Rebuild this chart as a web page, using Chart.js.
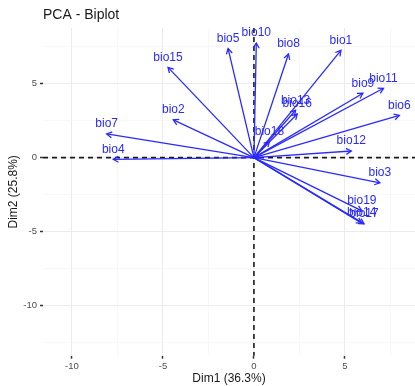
<!DOCTYPE html>
<html>
<head>
<meta charset="utf-8">
<script src="https://cdn.jsdelivr.net/npm/chart.js@4"></script>
<style>
  html, body { margin: 0; padding: 0; background: #fff; }
  #wrap { width: 415px; height: 386px; position: relative; }
</style>
</head>
<body>
<div id="wrap"><canvas id="biplot"></canvas></div>
<script>
// variable coordinates
const varNames = ['bio1', 'bio2', 'bio3', 'bio4', 'bio5', 'bio6', 'bio7', 'bio8', 'bio9', 'bio10',
                  'bio11', 'bio12', 'bio13', 'bio14', 'bio15', 'bio16', 'bio17', 'bio18', 'bio19'];
const dim1 = [4.78, -4.43, 6.92, -7.73, -1.42, 7.99, -8.09, 1.90, 5.99, 0.13,
              7.12, 5.35, 2.29, 5.92, -4.72, 2.38, 6.05, 0.85, 5.93];
const dim2 = [7.25, 2.55, -1.70, -0.11, 7.37, 2.85, 1.60, 7.00, 4.35, 7.75,
              4.69, 0.45, 3.20, -4.42, 6.10, 2.95, -4.47, 1.10, -3.60];

const xTicks = [-10, -5, 0, 5];
const yTicks = [-10, -5, 0, 5];

const BLUE = '#2a2aff';
const FONT = '"Liberation Sans", Arial, sans-serif';

const datasets = varNames.map((name, i) => ({
  label: name,
  data: [{ x: 0, y: 0 }, { x: dim1[i], y: dim2[i] }],
  showLine: true,
  borderColor: BLUE,
  borderWidth: 1.3,
  pointRadius: 0,
  pointHoverRadius: 0
}));

const isMajor = (v, list) => list.includes(Math.round(v * 100) / 100);

// zero lines, arrow heads, labels and titles
const biplotDecor = {
  id: 'biplotDecor',
  beforeDatasetsDraw(chart) {
    const { ctx, chartArea: a, scales: { x, y } } = chart;
    ctx.save();
    ctx.strokeStyle = '#1a1a1a';
    ctx.lineWidth = 1.6;
    ctx.setLineDash([5, 4]);
    const x0 = x.getPixelForValue(0);
    const y0 = y.getPixelForValue(0);
    ctx.beginPath();
    ctx.moveTo(a.left, y0); ctx.lineTo(a.right, y0);
    ctx.moveTo(x0, a.top); ctx.lineTo(x0, a.bottom);
    ctx.stroke();
    ctx.restore();
  },
  afterDatasetsDraw(chart) {
    const { ctx, scales: { x, y } } = chart;
    ctx.save();
    ctx.strokeStyle = BLUE;
    ctx.lineWidth = 1.3;
    const head = 6, ang = Math.PI / 6;
    chart.data.datasets.forEach(ds => {
      const p0 = ds.data[0], p1 = ds.data[1];
      const sx = x.getPixelForValue(p0.x), sy = y.getPixelForValue(p0.y);
      const ex = x.getPixelForValue(p1.x), ey = y.getPixelForValue(p1.y);
      const t = Math.atan2(ey - sy, ex - sx);
      ctx.beginPath();
      ctx.moveTo(ex - head * Math.cos(t - ang), ey - head * Math.sin(t - ang));
      ctx.lineTo(ex, ey);
      ctx.lineTo(ex - head * Math.cos(t + ang), ey - head * Math.sin(t + ang));
      ctx.stroke();
    });
    ctx.fillStyle = BLUE;
    ctx.font = '12px ' + FONT;
    ctx.textAlign = 'center';
    ctx.textBaseline = 'middle';
    chart.data.datasets.forEach(ds => {
      const p1 = ds.data[1];
      ctx.fillText(ds.label, x.getPixelForValue(p1.x), y.getPixelForValue(p1.y) - 10);
    });
    ctx.restore();
  },
  afterDraw(chart) {
    const { ctx, chartArea: a } = chart;
    ctx.save();
    ctx.fillStyle = '#1a1a1a';
    ctx.font = '14px ' + FONT;
    ctx.textAlign = 'left';
    ctx.textBaseline = 'middle';
    ctx.fillText('PCA - Biplot', a.left, 15);
    ctx.font = '12px ' + FONT;
    ctx.textAlign = 'center';
    ctx.fillText('Dim1 (36.3%)', (a.left + a.right) / 2, 379);
    ctx.translate(14, (a.top + a.bottom) / 2);
    ctx.rotate(-Math.PI / 2);
    ctx.fillText('Dim2 (25.8%)', 0, 0);
    ctx.restore();
  }
};

function axis(min, max, majors, fitKey, fitVal, pad) {
  return {
    type: 'linear',
    min: min,
    max: max,
    border: { display: false },
    grid: {
      color: c => isMajor(c.tick.value, majors) ? '#ebebeb' : '#f3f3f3',
      lineWidth: c => isMajor(c.tick.value, majors) ? 1 : 0.6,
      tickColor: c => isMajor(c.tick.value, majors) ? '#333333' : 'rgba(0,0,0,0)',
      tickLength: 3,
      tickWidth: 1.5
    },
    ticks: {
      stepSize: 2.5,
      includeBounds: false,
      autoSkip: false,
      maxRotation: 0,
      padding: pad,
      color: '#4d4d4d',
      font: { family: FONT, size: 9.5 },
      callback: v => isMajor(v, majors) ? String(v) : ''
    },
    afterFit: s => { s[fitKey] = fitVal; }
  };
}

new Chart(document.getElementById('biplot'), {
  type: 'scatter',
  data: { datasets: datasets },
  options: {
    responsive: true,
    maintainAspectRatio: false,
    animation: false,
    layout: { padding: { top: 28, right: 0, bottom: 0, left: 0 } },
    plugins: {
      legend: { display: false },
      tooltip: { enabled: false },
      title: { display: false }
    },
    scales: {
      x: axis(-11.59, 8.85, xTicks, 'height', 30.3, 2),
      y: axis(-13.38, 8.76, yTicks, 'width', 43, 3)
    }
  },
  plugins: [biplotDecor]
});
</script>
</body>
</html>
